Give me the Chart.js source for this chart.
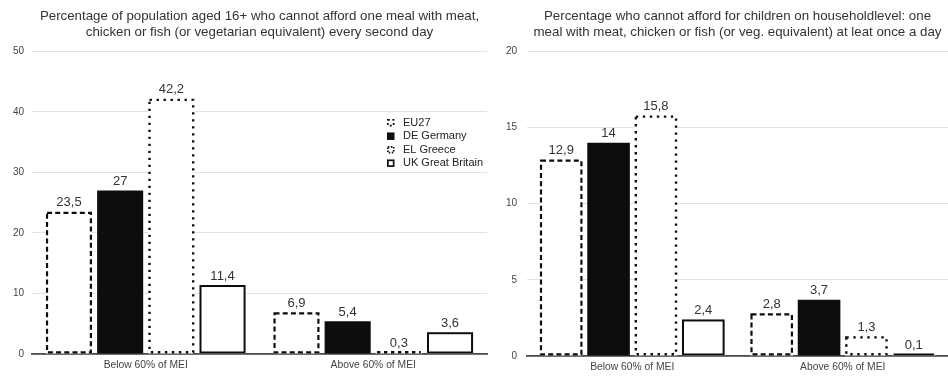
<!DOCTYPE html>
<html>
<head>
<meta charset="utf-8">
<script src="https://cdn.jsdelivr.net/npm/chart.js@4.4.0/dist/chart.umd.min.js"></script>
<style>
  html, body { margin: 0; padding: 0; background: #fff; }
  #wrap { position: relative; width: 948px; height: 376px; overflow: hidden; }
  #children { position: absolute; left: 490px; top: 0; }
  #adults { position: absolute; left: 0; top: 0; }
</style>
</head>
<body>
<div id="wrap">
  <canvas id="children" width="458" height="376"></canvas>
  <canvas id="adults" width="518" height="376"></canvas>
</div>
<script>
// Income groups (MEI = median equivalised income)
const categories = ['Below 60% of MEI', 'Above 60% of MEI'];
const seriesNames = ['EU27', 'DE Germany', 'EL Greece', 'UK Great Britain'];

// Population aged 16+ unable to afford a protein meal every second day (%)
const adultsEU27 = [23.5, 6.9];
const adultsDE   = [27, 5.4];
const adultsEL   = [42.2, 0.3];
const adultsUK   = [11.4, 3.6];

// Children (household level) unable to have a protein meal once a day (%)
const childEU27 = [12.9, 2.8];
const childDE   = [14, 3.7];
const childEL   = [15.8, 1.3];
const childUK   = [2.4, 0.1];

// Value axes
const adultTicks = { min: 0, max: 50, step: 10 };
const childTicks = { min: 0, max: 20, step: 5 };

const titleAdults = [
  'Percentage of population aged 16+ who cannot afford one meal with meat,',
  'chicken or fish (or vegetarian equivalent) every second day'
];
const titleChildren = [
  'Percentage who cannot afford for children on householdlevel: one',
  'meal with meat, chicken or fish (or veg. equivalent) at leat once a day'
];

const FONT = '"Liberation Sans", Arial, Helvetica, sans-serif';
const INK = '#0d0d0d';

// Per-series outline styles: dashed, filled, dotted, plain outline
const seriesStyle = [
  { fill: '#fff', dash: [5, 3.2], lw: 2.2, legendDash: [2, 2.5] },
  { fill: INK, dash: null, solidFill: true },
  { fill: '#fff', dash: [2.4, 4.6], lw: 2.4, legendDash: [1.5, 1.5] },
  { fill: '#fff', dash: [], lw: 2 }
];

function makeDatasets(values) {
  return values.map((vals, i) => {
    const s = seriesStyle[i];
    return {
      label: seriesNames[i],
      data: vals,
      backgroundColor: s.fill,
      borderWidth: 0,
      outlineDash: s.dash,
      outlineWidth: s.lw,
      categoryPercentage: 0.9,
      barPercentage: 0.9
    };
  });
}

// Bar outlines (dashed, dotted or solid) drawn along each bar element's edges
const barOutlines = {
  id: 'barOutlines',
  afterDatasetsDraw(chart) {
    const ctx = chart.ctx;
    chart.data.datasets.forEach((ds, i) => {
      if (!ds.outlineDash) return;
      const meta = chart.getDatasetMeta(i);
      meta.data.forEach(bar => {
        const { x, y, base, width } = bar.getProps(['x', 'y', 'base', 'width'], true);
        const lw = ds.outlineWidth;
        ctx.save();
        ctx.strokeStyle = INK;
        ctx.lineWidth = lw;
        ctx.setLineDash(ds.outlineDash);
        const top = Math.min(y + lw / 2, base - lw / 2);
        const h = Math.max(0, base - lw / 2 - top);
        ctx.strokeRect(x - width / 2 + lw / 2, top, width - lw, h);
        ctx.restore();
      });
    });
  }
};

// Value labels above each bar, decimal comma
const valueLabels = {
  id: 'valueLabels',
  afterDatasetsDraw(chart) {
    const ctx = chart.ctx;
    ctx.save();
    ctx.font = '13px ' + FONT;
    ctx.fillStyle = '#333';
    ctx.textAlign = 'center';
    ctx.textBaseline = 'alphabetic';
    chart.data.datasets.forEach((ds, i) => {
      const meta = chart.getDatasetMeta(i);
      meta.data.forEach((bar, j) => {
        const { x, y } = bar.getProps(['x', 'y'], true);
        ctx.fillText(String(ds.data[j]).replace('.', ','), x, y - 5.5);
      });
    });
    ctx.restore();
  }
};

// Compact legend placed inside the plot area
const insideLegend = {
  id: 'insideLegend',
  afterDraw(chart) {
    const opts = chart.options.plugins.insideLegend;
    if (!opts || !opts.show) return;
    const ctx = chart.ctx;
    const area = chart.chartArea;
    const x0 = area.right - 100;
    const y0 = area.top + 71;
    const rowH = 13.5;
    ctx.save();
    ctx.font = '11px ' + FONT;
    ctx.fillStyle = '#222';
    ctx.textBaseline = 'middle';
    ctx.textAlign = 'left';
    chart.data.datasets.forEach((ds, i) => {
      const s = seriesStyle[i];
      const cy = y0 + i * rowH;
      const sx = x0, sy = cy - 3.5, sz = 7.5;
      ctx.save();
      ctx.strokeStyle = INK;
      ctx.fillStyle = INK;
      if (s.solidFill) {
        ctx.fillRect(sx, sy, sz, sz);
      } else {
        ctx.lineWidth = 1.7;
        ctx.setLineDash(s.legendDash || []);
        ctx.strokeRect(sx + 0.85, sy + 0.85, sz - 1.7, sz - 1.7);
      }
      ctx.restore();
      ctx.fillText(ds.label, x0 + 16, cy + 0.5);
    });
    ctx.restore();
  }
};

function makeChart(canvasId, values, ticks, title, yWidth, xHeight, yPad, pad, showLegend) {
  return new Chart(document.getElementById(canvasId), {
    type: 'bar',
    data: { labels: categories, datasets: makeDatasets(values) },
    plugins: [barOutlines, valueLabels, insideLegend],
    options: {
      responsive: false,
      animation: false,
      events: [],
      layout: { padding: pad },
      plugins: {
        legend: { display: false },
        tooltip: { enabled: false },
        insideLegend: { show: showLegend },
        title: {
          display: true,
          fullSize: false,
          text: title,
          color: '#333',
          font: { family: FONT, size: 13.3, weight: 'normal', lineHeight: 1.22 },
          padding: { top: 8, bottom: 11 }
        }
      },
      scales: {
        x: {
          grid: { display: false, drawTicks: false },
          border: { display: true, color: '#4a4a4a', width: 1.8 },
          ticks: { color: '#444', font: { family: FONT, size: 10.3 }, padding: 5, maxRotation: 0 },
          afterFit(scale) { scale.height = xHeight; }
        },
        y: {
          min: ticks.min,
          max: ticks.max,
          ticks: { stepSize: ticks.step, color: '#444', font: { family: FONT, size: 10 }, padding: yPad },
          grid: { color: '#e2e2e2', lineWidth: 1, drawTicks: false },
          border: { display: false },
          afterFit(scale) { scale.width = yWidth; }
        }
      }
    }
  });
}

makeChart('adults', [adultsEU27, adultsDE, adultsEL, adultsUK], adultTicks, titleAdults,
  32, 22, 8, { left: 0, right: 31, top: 0, bottom: 0 }, true);
makeChart('children', [childEU27, childDE, childEL, childUK], childTicks, titleChildren,
  37, 20, 10, { left: 0, right: 0, top: 0, bottom: 0 }, false);
</script>
</body>
</html>
